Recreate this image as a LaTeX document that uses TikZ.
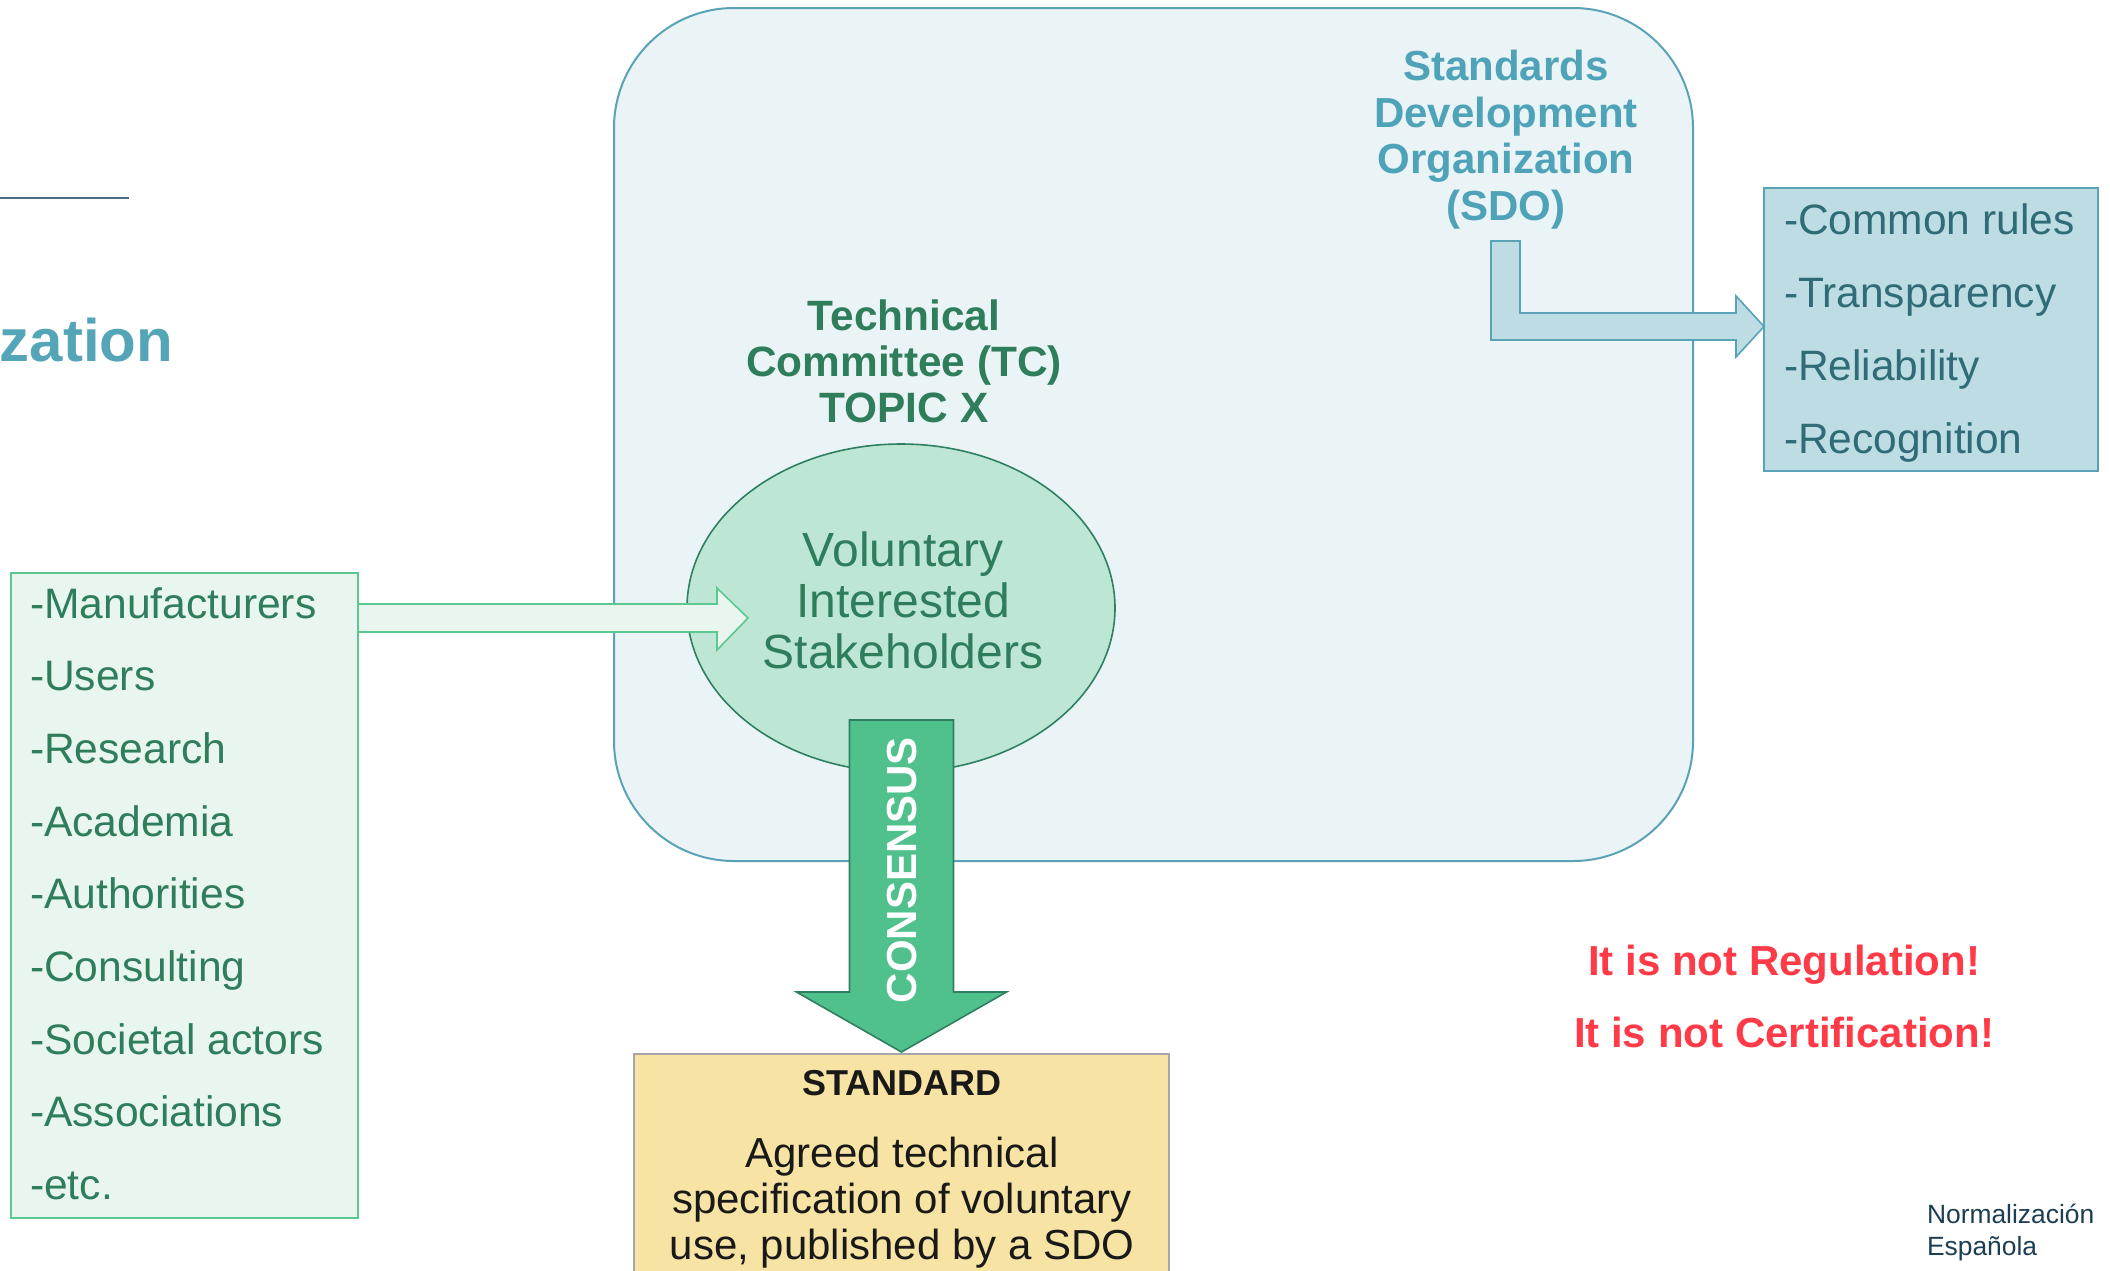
\documentclass[tikz,border=0pt]{standalone}
\usepackage{fontspec}
\setmainfont{Liberation Sans}
\usetikzlibrary{shapes.geometric,calc}
\definecolor{sdofill}{HTML}{EAF3F6}
\definecolor{sdoline}{HTML}{5AA3B7}
\definecolor{ellfill}{HTML}{BDE6D5}
\definecolor{darkgreen}{HTML}{2E8060}
\definecolor{greentext}{HTML}{2E7D5B}
\definecolor{lboxfill}{HTML}{E8F6EF}
\definecolor{lboxline}{HTML}{5CC891}
\definecolor{consfill}{HTML}{50C18C}
\definecolor{rboxfill}{HTML}{BDDCE3}
\definecolor{rtext}{HTML}{2F6C78}
\definecolor{sdotext}{HTML}{4FA3B8}
\definecolor{stdfill}{HTML}{F7E3A3}
\definecolor{stdline}{HTML}{A6A6A6}
\definecolor{redtext}{HTML}{FF3B47}
\definecolor{zattext}{HTML}{55A5B8}
\definecolor{slate}{HTML}{4B6B80}
\definecolor{navy}{HTML}{1D3D52}
\newcommand\fs[2]{\fontsize{#1}{#2}\selectfont}
\begin{document}
\begin{tikzpicture}[x=0.5pt,y=-0.5pt,
  every node/.style={inner sep=0pt, outer sep=0pt},
  ltext/.style={text=greentext, font=\fs{21.3}{25}, anchor=base west},
  rtextst/.style={text=rtext, font=\fs{21.25}{25}, anchor=base west},
  redst/.style={text=redtext, font=\fs{21}{25}\bfseries, anchor=base}]
\useasboundingbox (0,0) rectangle (2110,1270);
% SDO rounded box
\node[draw=sdoline, fill=sdofill, line width=1pt, rounded corners=60pt,
  minimum width=539.5pt, minimum height=426.5pt, anchor=north west] (sdobox) at (614,8) {};
% decorative line and partial title
\draw[slate, line width=1pt] (0,198) coordinate (ls) -- (129,198) coordinate (le);
\node[text=zattext, font=\fs{30}{36}\bfseries, anchor=base east] (zat) at (173,361) {zation};
% left box
\node[draw=lboxline, fill=lboxfill, line width=0.8pt, minimum width=173.5pt,
  minimum height=322.5pt, anchor=north west] (lbox) at (11,573) {};
\foreach \t [count=\i from 0] in {-Manufacturers,-Users,-Research,-Academia,-Authorities,-Consulting,-Societal actors,-Associations,-etc.}
  \node[ltext] (left\i) at (30,618+\i*72.7) {\t};
% ellipse
\node[ellipse, draw=darkgreen, fill=ellfill, line width=0.8pt,
  minimum width=214pt, minimum height=164pt] (ell) at (901,608) {};
\node[text=greentext, font=\fs{24}{25.5}, align=center] (voltext) at (903,600) {Voluntary\\Interested\\Stakeholders};
% left block arrow
\draw[draw=lboxline, fill=lboxfill, line width=0.8pt]
  ([yshift=-15.5pt]lbox.north east) -- ++(359,0) -- ++(0,-16) -- ++(31,30)
  -- ++(-31,32) -- ++(0,-18) -- ++(-359,0) -- cycle;
% TC label
\node[text=greentext, font=\fs{21.2}{23}\bfseries, align=center] (tc) at (904,361.5) {Technical\\Committee (TC)\\TOPIC X};
% SDO label
\node[text=sdotext, font=\fs{21}{23.25}\bfseries, align=center] (sdo) at (1506,139.5) {Standards\\Development\\Organization\\(SDO)};
% right box
\node[draw=sdoline, fill=rboxfill, line width=0.8pt, minimum width=167pt,
  minimum height=141.5pt, anchor=north west] (rbox) at (1764,188) {};
\foreach \t [count=\i from 0] in {-Common rules,-Transparency,-Reliability,-Recognition}
  \node[rtextst] (right\i) at (1784,234+\i*73) {\t};
% SDO bent arrow
\draw[draw=sdoline, fill=rboxfill, line width=0.8pt]
  ([yshift=1.5pt]rbox.west) -- ++(-28,-30.5) -- ++(0,17) -- ++(-216,0) -- ++(0,-72)
  -- ++(-29,0) -- ++(0,99) -- ++(245,0) -- ++(0,17) -- cycle;
% STANDARD box
\node[draw=stdline, fill=stdfill, line width=0.8pt, minimum width=267.5pt,
  minimum height=130pt, anchor=north west] (std) at (634,1054) {};
\node[font=\fs{18}{22}\bfseries, anchor=base, text=black!90] (stdtitle) at (902,1095) {STANDARD};
\node[font=\fs{21}{23}, align=center, text=black!90] (stdbody) at (902,1203) {Agreed technical\\specification of voluntary\\use, published by a SDO};
% consensus arrow
\draw[draw=darkgreen, fill=consfill, line width=0.8pt]
  ([yshift=1pt]std.north) coordinate (ctip) -- ++(-105,-60) -- ++(53,0) -- ++(0,-272)
  -- ++(104,0) -- ++(0,272) -- ++(53,0) -- cycle;
\node[rotate=90, text=white, font=\fs{21}{25}\bfseries] (cons) at (902,870) {CONSENSUS};
% red notes
\node[redst] (notreg) at (1784,975) {It is not Regulation!};
\node[redst] (notcert) at (1784,1047) {It is not Certification!};
% logo text
\node[text=navy, font=\fs{13.2}{16}, anchor=base west] (norm1) at (1927,1223.5) {Normalización};
\node[text=navy, font=\fs{13.2}{16}, anchor=base west] (norm2) at (1927,1255.5) {Española};
\end{tikzpicture}
\end{document}
